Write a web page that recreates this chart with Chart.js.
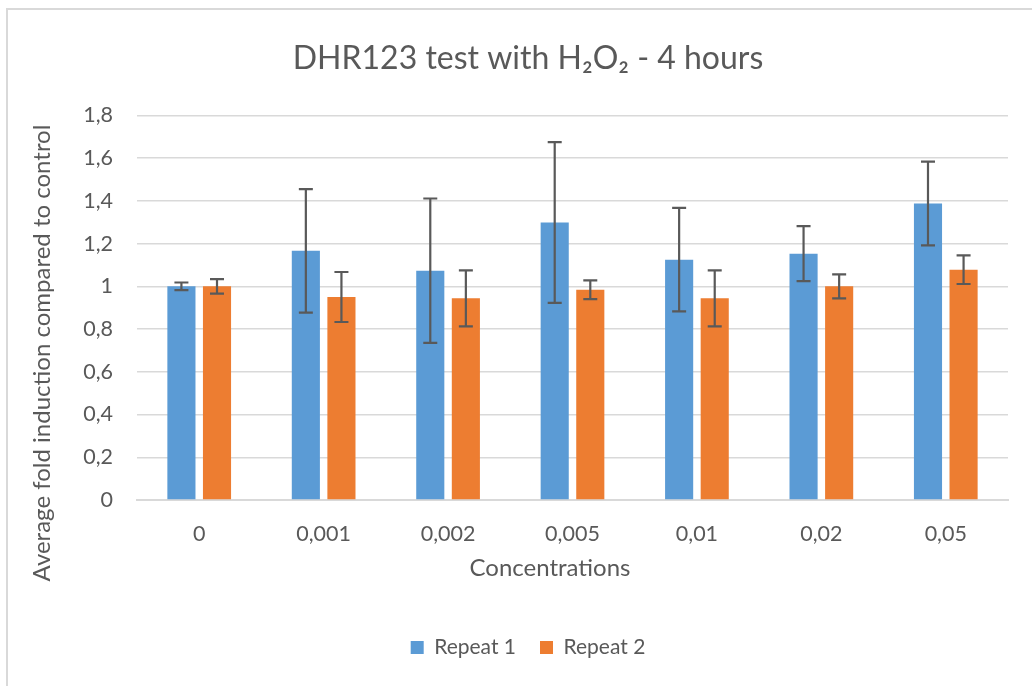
<!DOCTYPE html>
<html>
<head>
<meta charset="utf-8">
<script src="https://cdn.jsdelivr.net/npm/chart.js@4.4.1/dist/chart.umd.min.js"></script>
<style>
  html, body { margin: 0; padding: 0; overflow: hidden; background: #fff; }
  #frame { position: absolute; left: 6px; top: 8px; width: 1100px; height: 800px; border: 2px solid #d9d9d9; }
  #wrap { position: absolute; left: 0; top: 0; width: 1032px; height: 686px; }
</style>
</head>
<body>
<div id="frame"></div>
<div id="wrap"><canvas id="myChart" width="1032" height="686"></canvas></div>
<script>
// concentrations of H2O2
var categories = ['0', '0,001', '0,002', '0,005', '0,01', '0,02', '0,05'];
var repeat1 = [1.0, 1.166, 1.073, 1.299, 1.125, 1.153, 1.388];
var repeat1Err = [0.018, 0.289, 0.338, 0.376, 0.242, 0.129, 0.196];
var repeat2 = [1.0, 0.95, 0.944, 0.984, 0.944, 1.0, 1.078];
var repeat2Err = [0.034, 0.117, 0.131, 0.044, 0.131, 0.056, 0.067];
var yTitle = 'Average fold induction compared to control';
var xTitle = 'Concentrations';

var textColor = '#595959';
var gridColor = '#d9d9d9';

// draws the error bars on top of each bar
const errorBars = {
    id: 'errorBars',
    afterDatasetsDraw(chart) {
        const ctx = chart.ctx;
        const yScale = chart.scales.y;
        chart.data.datasets.forEach((ds, i) => {
            const meta = chart.getDatasetMeta(i);
            meta.data.forEach((bar, j) => {
                const v = ds.data[j];
                const e = ds.errors[j];
                const top = yScale.getPixelForValue(v + e);
                const bottom = yScale.getPixelForValue(v - e);
                ctx.save();
                ctx.strokeStyle = textColor;
                ctx.lineWidth = 2.2;
                ctx.beginPath();
                ctx.moveTo(bar.x, top);
                ctx.lineTo(bar.x, bottom);
                ctx.moveTo(bar.x - 7, top);
                ctx.lineTo(bar.x + 7, top);
                ctx.moveTo(bar.x - 7, bottom);
                ctx.lineTo(bar.x + 7, bottom);
                ctx.stroke();
                ctx.restore();
            });
        });
    }
};

// axis titles, placed like the excel ones (not centred on the plot)
const axisTitles = {
    id: 'axisTitles',
    afterDraw(chart) {
        const ctx = chart.ctx;
        ctx.save();
        ctx.fillStyle = textColor;
        ctx.textAlign = 'center';
        ctx.textBaseline = 'middle';
        ctx.font = '24px Lato';
        ctx.fillText(xTitle, 550, 568);
        ctx.translate(42, 353);
        ctx.rotate(-Math.PI / 2);
        ctx.font = '24px Lato';
        ctx.fillText(yTitle, 0, 0);
        ctx.restore();
    }
};

const data = {
    labels: categories,
    datasets: [{
            label: 'Repeat 1',
            backgroundColor: '#5b9bd5',
            data: repeat1,
            errors: repeat1Err,
            borderWidth: 0
        },
        {
            label: 'Repeat 2',
            backgroundColor: '#ed7d31',
            data: repeat2,
            errors: repeat2Err,
            borderWidth: 0
        }
    ]
};

const config = {
    type: 'bar',
    data: data,
    plugins: [errorBars, axisTitles],
    options: {
        responsive: false,
        animation: false,
        categoryPercentage: 0.572,
        barPercentage: 0.79,
        layout: {
            padding: { left: 48, right: 24, top: 22, bottom: 18 }
        },
        plugins: {
            title: {
                display: true,
                text: 'DHR123 test with H₂O₂ - 4 hours',
                color: textColor,
                font: { family: 'Lato', size: 32, weight: 'normal' },
                padding: { top: 17, bottom: 38 }
            },
            legend: {
                position: 'bottom',
                labels: {
                    color: textColor,
                    font: { family: 'Lato', size: 21 },
                    boxWidth: 13,
                    boxHeight: 13,
                    padding: 24
                }
            },
            tooltip: { enabled: false }
        },
        scales: {
            y: {
                min: 0,
                max: 1.8,
                ticks: {
                    stepSize: 0.2,
                    color: textColor,
                    font: { family: 'Lato', size: 21.5 },
                    padding: 24,
                    callback: function (v) {
                        return Number(v.toFixed(1)).toString().replace('.', ',');
                    }
                },
                grid: { color: gridColor, lineWidth: 1.5, drawTicks: false },
                border: { display: false },
                afterFit: function (scale) { scale.width = 89; }
            },
            x: {
                ticks: {
                    color: textColor,
                    font: { family: 'Lato', size: 21.5 },
                    padding: 21
                },
                grid: { display: false, drawTicks: false },
                border: { color: gridColor, width: 2 },
                afterFit: function (scale) { scale.height = 113; }
            }
        }
    }
};

new Chart(
    document.getElementById('myChart'),
    config
);
</script>
</body>
</html>
